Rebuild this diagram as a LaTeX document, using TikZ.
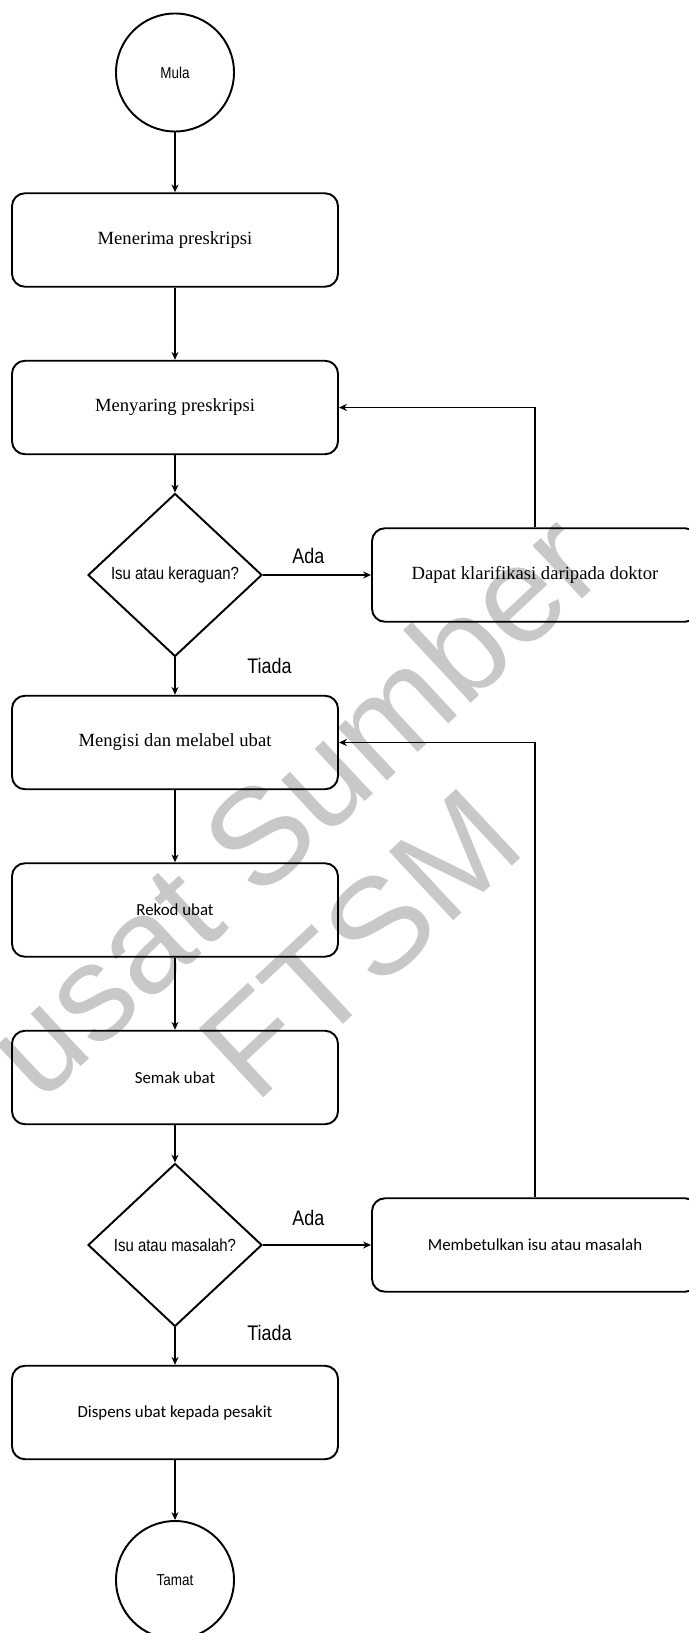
\documentclass[tikz,border=0pt]{standalone}
\usepackage{fontspec}
\setmainfont{Liberation Serif}
\newfontfamily\carlito{Carlito}
\newfontfamily\narrowsans[FakeStretch=0.85]{Liberation Sans}
\newfontfamily\wmsans{Liberation Sans}
\usetikzlibrary{shapes.geometric,arrows.meta,positioning}
\definecolor{wmgray}{RGB}{200,200,200}
\tikzset{
  terminal/.style={circle,draw,line width=1.1pt,minimum size=2.36cm,inner sep=0pt,
    font=\narrowsans\fontsize{9}{11}\selectfont},
  proses/.style={rectangle,draw,line width=1.1pt,rounded corners=0.26cm,
    minimum width=6.52cm,minimum height=1.87cm,inner sep=0pt},
  teks serif/.style={proses,font=\fontsize{10.6}{13}\selectfont},
  teks sans/.style={proses,font=\carlito\fontsize{9.6}{12}\selectfont},
  keputusan/.style={diamond,draw,line width=1.1pt,aspect=1.07,minimum width=3.48cm,
    minimum height=3.26cm,inner sep=0pt,font=\narrowsans\fontsize{10}{12}\selectfont},
  jawapan/.style={font=\narrowsans\fontsize{12}{14}\selectfont},
}
\begin{document}
\begin{tikzpicture}[line width=0.6pt,>={Stealth[length=4.5pt,width=4pt]}]
      \useasboundingbox (0,0) rectangle (13.76,-32.66);
      % tera air di belakang
      \node[text=wmgray,rotate=43,align=center,font=\wmsans\fontsize{78}{84}\selectfont]
        (tera) at (6.17,-17.77) {Pusat Sumber\\FTSM};
      \draw
        (3.5,-1.45) node[terminal] (mula){Mula}
        (3.5,-4.8) node[teks serif] (terima){Menerima preskripsi}
        (3.5,-8.15) node[teks serif] (saring){Menyaring preskripsi}
        (3.5,-11.5) node[keputusan] (ragu){Isu atau keraguan?}
        (10.7,-11.5) node[teks serif] (doktor){Dapat klarifikasi daripada doktor}
        (3.5,-14.85) node[teks serif] (isi){Mengisi dan melabel ubat}
        (3.5,-18.2) node[teks sans] (rekod){Rekod ubat}
        (3.5,-21.55) node[teks sans] (semak){Semak ubat}
        (3.5,-24.9) node[keputusan] (masalah){Isu atau masalah?}
        (10.7,-24.9) node[teks sans] (betul){Membetulkan isu atau masalah}
        (3.5,-28.25) node[teks sans] (dispens){Dispens ubat kepada pesakit}
        (3.5,-31.6) node[terminal] (tamat){Tamat};
      \begin{scope}[->]
        \draw (mula) to (terima);
        \draw (terima) to (saring);
        \draw (saring) to (ragu);
        \draw (ragu) to node[jawapan,pos=0.42,above=0.09cm]{Ada} (doktor);
        \draw (ragu) to node[jawapan,pos=0.22,right=1.32cm]{Tiada} (isi);
        \draw (doktor.north) |- (saring.east);
        \draw (isi) to (rekod);
        \draw (rekod) to (semak);
        \draw (semak) to (masalah);
        \draw (masalah) to node[jawapan,pos=0.42,above=0.25cm]{Ada} (betul);
        \draw (masalah) to node[jawapan,pos=0.15,right=1.32cm]{Tiada} (dispens);
        \draw (betul.north) |- (isi.east);
        \draw (dispens) to (tamat);
      \end{scope}
    \end{tikzpicture}
\end{document}
